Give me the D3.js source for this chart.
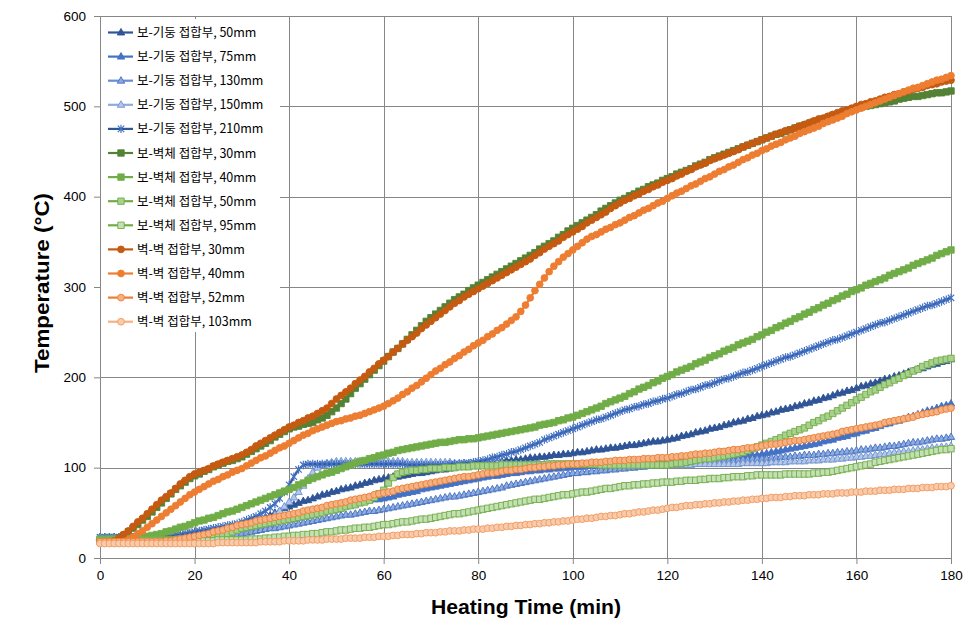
<!DOCTYPE html>
<html><head><meta charset="utf-8">
<script src="https://cdn.jsdelivr.net/npm/d3@7/dist/d3.min.js"></script>
<style>body{margin:0;background:#fff}svg{display:block}</style>
</head><body>
<svg id="chart" width="978" height="639"></svg>
<script>
// ---- data (one reading per minute, 0..180 min) ----
const xTickValues = [0,20,40,60,80,100,120,140,160,180];
const yTickValues = [0,100,200,300,400,500,600];
const seriesNames = [
  "보-기둥 접합부, 50mm","보-기둥 접합부, 75mm","보-기둥 접합부, 130mm","보-기둥 접합부, 150mm","보-기둥 접합부, 210mm",
  "보-벽체 접합부, 30mm","보-벽체 접합부, 40mm","보-벽체 접합부, 50mm","보-벽체 접합부, 95mm",
  "벽-벽 접합부, 30mm","벽-벽 접합부, 40mm","벽-벽 접합부, 52mm","벽-벽 접합부, 103mm"];

const bc50 = [23,23,23,23,23,23,23,23,23,23, 23,23,23,23,24,24,24,25,25,26, 27,28,28,29,30,31,32,33,34,35,
 36,38,39,41,43,45,47,50,52,55, 57,59,61,63,64,66,68,70,71,73, 74,76,77,78,80,81,83,84,86,87,
 88,89,90,90,91,92,93,94,94,95, 96,97,98,98,99,100,101,102,102,103, 104,105,105,106,106,107,108,108,109,109,
 110,111,111,112,112,113,114,114,115,115, 116,117,117,118,119,120,120,121,122,122, 123,124,125,125,126,127,128,129,129,130,
 131,132,133,135,136,137,139,140,141,143, 144,145,147,148,150,151,152,154,155,157, 158,159,161,162,164,165,166,168,169,171,
 172,174,175,177,178,180,182,183,185,186, 188,190,191,193,194,196,198,199,201,202, 204,206,207,209,210,212,214,215,217,218, 220];
const bc75 = [22,22,22,22,22,22,22,22,22,22, 22,22,22,22,22,22,22,23,23,23, 24,25,25,26,26,27,28,29,29,30,
 31,32,33,34,36,37,38,40,41,43, 44,45,47,48,50,51,52,53,55,56, 57,58,59,60,61,62,63,64,65,65,
 66,67,68,70,71,72,73,74,76,77, 78,79,80,81,82,83,84,85,86,87, 88,89,90,91,91,92,93,94,94,95,
 96,96,97,97,98,98,99,99,100,100, 101,101,101,102,102,102,103,103,103,104, 104,104,104,105,105,105,105,105,106,106,
 106,106,107,107,108,108,108,109,109,110, 110,110,111,111,112,112,113,113,114,114, 115,116,117,118,119,120,121,122,123,124,
 125,126,127,129,130,131,133,134,135,137, 138,140,141,143,144,146,148,149,151,152, 154,156,157,159,161,163,164,166,168,169, 171];
const bc130 = [23,23,23,23,23,23,23,23,23,23, 23,23,23,23,23,23,23,23,23,24, 24,24,24,25,25,25,25,26,26,26,
 27,28,29,30,31,32,33,33,34,35, 36,37,38,39,40,41,42,43,44,45, 46,47,48,48,49,50,51,52,52,53,
 54,55,56,57,58,59,60,61,62,63, 64,65,66,67,68,68,69,70,71,72, 73,74,75,76,77,78,80,81,82,83,
 84,85,86,87,88,89,90,91,92,93, 94,94,95,95,96,96,97,97,98,98, 99,99,100,100,101,101,102,102,103,103,
 104,104,104,105,105,105,106,106,106,107, 107,107,108,108,108,109,109,109,110,110, 110,110,111,111,112,112,112,113,113,114,
 114,114,115,115,116,116,117,117,118,118, 119,120,120,121,122,122,123,124,124,125, 126,127,128,128,129,130,131,132,132,133, 134];
const bc150 = [23,23,23,23,23,23,23,23,23,23, 23,23,23,23,23,23,23,23,24,24, 24,24,24,25,25,26,27,28,29,30,
 31,32,34,36,38,41,44,48,52,57, 62,67,73,80,88,95,100,103,105,106, 107,107,107,107,107,107,107,107,107,107,
 107,107,107,107,107,106,106,106,106,106, 106,106,106,106,106,105,105,105,105,105, 105,105,105,105,105,105,104,104,104,104,
 104,104,104,104,104,104,104,104,104,104, 104,104,104,104,104,103,103,103,103,103, 103,103,103,103,103,103,103,103,103,103,
 103,103,103,103,103,103,104,104,104,104, 104,104,104,104,104,104,105,105,105,105, 105,105,106,106,106,106,107,107,107,107,
 108,108,108,109,109,109,110,110,111,111, 112,112,113,113,114,115,115,116,117,117, 118,118,119,120,120,121,122,122,123,123, 124];
const bc210 = [23,23,23,23,23,23,23,23,23,23, 23,23,24,24,24,25,26,26,27,28, 29,30,31,32,33,34,35,36,37,38,
 40,42,44,46,49,52,56,60,66,73, 81,90,98,103,104,104,104,104,104,104, 104,104,104,104,104,104,104,104,104,104,
 104,104,104,104,104,103,103,103,103,103, 103,103,103,103,104,104,104,105,105,106, 107,108,109,111,112,114,115,117,118,120,
 122,124,126,128,131,133,135,137,139,141, 143,145,147,149,151,153,154,156,158,160, 162,164,165,167,168,170,171,173,174,176,
 177,179,181,182,184,186,187,189,191,192, 194,196,198,199,201,203,205,206,208,210, 212,214,216,218,220,222,223,225,227,229,
 231,233,235,237,239,241,242,244,246,248, 250,252,254,256,258,260,261,263,265,267, 269,271,273,275,277,279,280,282,284,286, 288];
const bw30 = [19,19,19,20,22,25,29,33,37,42, 46,51,56,61,66,71,76,80,84,88, 91,93,96,98,101,103,105,107,108,110,
 112,115,118,121,124,127,130,134,137,140, 143,145,146,148,149,150,153,155,158,162, 166,171,176,182,188,193,198,203,208,213,
 218,223,228,232,237,242,247,252,257,262, 266,270,274,278,282,286,289,292,296,299, 302,305,308,311,314,317,320,323,326,329,
 332,335,338,342,345,348,351,355,358,362, 365,368,371,374,377,380,384,387,390,393, 396,398,401,403,406,408,411,413,415,418,
 420,422,425,427,429,431,434,436,438,441, 443,445,447,449,451,453,455,457,459,461, 463,465,467,469,470,472,474,476,478,479,
 481,483,484,486,488,490,491,493,495,496, 498,499,500,501,502,503,504,505,506,508, 509,510,511,511,512,513,514,515,515,516, 517];
const bw40 = [21,21,21,21,21,21,22,22,23,23, 24,25,26,27,29,30,32,34,35,37, 39,41,42,44,45,47,49,51,52,54,
 56,58,60,62,64,66,68,70,72,74, 76,78,81,83,86,88,90,92,94,95, 97,99,101,103,105,107,108,110,111,113,
 114,116,117,119,120,121,122,123,124,125, 126,127,128,128,129,130,131,131,132,132, 133,134,135,136,137,138,139,140,141,142,
 143,144,145,147,148,149,150,152,153,155, 156,158,160,162,164,166,168,171,173,175, 177,179,182,184,187,189,191,194,196,199,
 201,203,206,208,210,212,215,217,219,222, 224,226,229,231,233,236,238,240,242,245, 247,250,252,255,257,260,262,265,267,270,
 272,275,277,280,282,285,287,290,292,295, 297,299,302,304,306,308,310,313,315,317, 319,321,324,326,328,330,332,335,337,339, 341];
const bw50 = [20,20,20,20,20,20,20,20,20,20, 20,20,20,20,20,20,20,21,21,21, 21,22,22,23,24,25,26,27,29,31,
 33,34,35,36,37,38,39,40,41,42, 43,44,45,46,47,48,49,50,52,53, 54,55,57,58,59,61,62,64,67,71,
 75,83,89,93,95,96,97,97,98,98, 99,99,99,100,100,100,101,101,101,102, 102,102,102,102,102,103,103,103,103,103,
 103,103,103,103,103,104,104,104,104,104, 104,104,104,104,104,104,103,103,103,103, 103,103,103,103,103,103,103,103,103,103,
 103,104,105,105,106,107,108,109,110,110, 111,112,113,114,115,116,117,119,121,123, 125,127,129,131,133,136,138,140,142,144,
 147,150,152,155,157,160,163,166,169,172, 175,178,181,184,186,189,192,194,197,199, 202,204,207,209,212,214,216,218,219,220, 221];
const bw95 = [19,19,19,19,19,19,19,19,19,19, 19,19,19,19,19,19,19,19,19,19, 19,19,19,19,19,20,20,20,20,20,
 20,20,21,21,21,22,22,23,23,24, 24,25,25,26,26,27,27,28,29,29, 30,31,31,32,33,33,34,34,35,36,
 37,37,38,39,40,40,41,42,43,43, 44,45,46,47,48,49,49,50,51,52, 53,54,55,56,57,58,59,60,61,62,
 63,64,65,65,66,67,68,69,70,70, 71,72,73,73,74,75,76,77,77,78, 79,80,80,81,81,82,82,83,83,84,
 84,84,85,85,86,86,86,87,87,88, 88,88,89,89,90,90,90,91,91,92, 92,92,92,92,92,93,93,93,93,93,
 93,94,94,95,95,96,97,98,99,100, 101,102,103,104,106,107,108,109,110,111, 112,113,114,115,116,117,118,119,120,120, 121];
const ww30 = [18,18,18,19,22,26,30,35,40,44, 49,54,59,64,68,72,77,82,86,90, 93,95,97,99,102,104,106,108,110,112,
 114,117,120,124,127,130,133,136,139,142, 145,147,150,152,155,157,160,163,166,171, 176,180,184,188,193,197,201,206,210,215,
 219,223,228,232,237,241,245,249,254,258, 262,266,270,274,278,282,285,289,292,295, 298,301,304,307,310,313,316,319,322,325,
 328,331,335,338,342,345,348,351,355,358, 361,364,367,371,374,377,380,383,387,390, 393,396,398,401,403,406,408,411,413,416,
 418,420,423,425,428,430,433,435,437,440, 442,444,446,448,450,452,455,457,459,461, 463,465,467,469,471,473,474,476,478,480,
 482,484,486,487,489,491,493,495,496,498, 500,502,503,505,506,508,510,511,513,514, 516,517,519,520,521,523,524,525,527,528, 529];
const ww40 = [17,17,17,17,17,18,20,23,27,30, 34,38,42,46,50,54,58,62,66,70, 73,76,79,82,85,87,90,92,95,97,
 99,102,105,108,111,113,116,119,122,124, 127,130,133,136,138,141,143,145,147,149, 151,152,154,155,157,158,160,162,164,166,
 168,171,174,177,181,184,188,191,195,199, 203,207,210,214,217,221,224,228,231,235, 238,241,245,248,252,255,259,263,267,273,
 280,288,296,303,310,317,323,328,333,337, 341,345,349,353,356,358,361,364,366,369, 371,374,377,379,382,385,387,390,393,395,
 398,401,404,406,409,412,414,417,420,422, 425,428,430,433,435,438,441,443,446,448, 451,453,456,458,460,463,465,467,470,472,
 474,476,478,481,483,485,487,489,492,494, 496,498,500,502,504,506,508,510,512,514, 516,518,520,521,523,525,527,529,530,532, 534];
const ww52 = [18,18,18,18,18,18,18,18,18,18, 18,18,18,18,19,19,20,21,22,23, 24,25,26,27,29,30,31,33,34,36,
 37,38,39,41,42,43,44,45,46,47, 48,49,50,52,53,54,55,56,58,59, 60,61,62,64,65,66,67,68,70,71,
 72,73,74,76,77,78,79,80,81,82, 83,84,85,86,87,88,89,90,90,91, 92,93,94,94,95,96,97,97,98,98,
 99,100,100,101,101,102,102,103,103,104, 104,104,105,105,106,106,106,107,107,108, 108,108,109,109,109,110,110,110,111,111,
 111,112,112,113,113,114,115,115,116,116, 117,118,118,119,120,120,121,122,122,123, 124,125,126,126,127,128,129,130,130,131,
 132,133,134,135,136,137,138,140,141,142, 143,144,145,146,147,148,150,151,152,153, 154,155,156,158,159,160,161,162,164,165, 166];
const ww103 = [16,16,16,16,16,16,16,16,16,16, 16,16,16,16,16,16,16,16,16,16, 16,16,16,16,16,17,17,17,17,17,
 17,17,17,17,18,18,18,18,18,19, 19,19,19,19,20,20,20,20,21,21, 21,21,22,22,22,22,23,23,23,24,
 24,24,25,25,26,26,26,27,27,28, 28,28,29,29,30,30,30,31,31,32, 32,32,33,33,34,34,35,35,36,36,
 37,37,38,38,39,39,40,40,41,41, 42,43,43,44,44,45,46,46,47,47, 48,49,49,50,51,51,52,53,53,54,
 55,56,56,57,58,58,59,59,60,60, 61,61,62,62,63,63,64,64,65,65, 66,66,67,67,67,68,68,69,69,69,
 70,70,70,71,71,71,72,72,72,73, 73,73,74,74,74,75,75,75,76,76, 76,77,77,77,78,78,78,79,79,79, 80];

const seriesValues = [bc50,bc75,bc130,bc150,bc210,bw30,bw40,bw50,bw95,ww30,ww40,ww52,ww103];

// ---- styles ----
const TRI = "M0,-4L3.7,2.5L-3.7,2.5Z";
const SQR = "M-3.2,-3.2h6.4v6.4h-6.4Z";
const CIR = "M3.4,0A3.4,3.4 0 1,1 -3.4,0A3.4,3.4 0 1,1 3.4,0Z";
const STAR = "M-3.2,-3.2L3.2,3.2M-3.2,3.2L3.2,-3.2M0,-4.2V4.2";
const styles = [
  {line:"#2F5597", m:TRI, fill:"#2F5597", stroke:"#2F5597"},
  {line:"#4472C4", m:TRI, fill:"#4472C4", stroke:"#4472C4"},
  {line:"#698ED0", m:TRI, fill:"#8FAADC", stroke:"#4472C4"},
  {line:"#8FAADC", m:TRI, fill:"#B4C7E7", stroke:"#6F93D3"},
  {line:"#2F5597", m:STAR, fill:"none", stroke:"#4472C4"},
  {line:"#548235", m:SQR, fill:"#548235", stroke:"#548235"},
  {line:"#70AD47", m:SQR, fill:"#70AD47", stroke:"#70AD47"},
  {line:"#70AD47", m:SQR, fill:"#A9D18E", stroke:"#70AD47"},
  {line:"#70AD47", m:SQR, fill:"#C5E0B4", stroke:"#70AD47"},
  {line:"#C55A11", m:CIR, fill:"#C55A11", stroke:"#C55A11"},
  {line:"#ED7D31", m:CIR, fill:"#ED7D31", stroke:"#ED7D31"},
  {line:"#ED7D31", m:CIR, fill:"#F4B183", stroke:"#ED7D31"},
  {line:"#F4B183", m:CIR, fill:"#F8CBAD", stroke:"#F19A5E"}
];

const svg = d3.select("#chart");
const x = d3.scaleLinear().domain([0,180]).range([100,951]);
const y = d3.scaleLinear().domain([0,600]).range([558,16]);
const GRID = "#878787";

// gridlines
const g = svg.append("g");
g.selectAll(".hg").data(yTickValues.filter(v=>v>0)).join("line")
  .attr("x1",100).attr("x2",951).attr("y1",d=>Math.round(y(d))+0.5).attr("y2",d=>Math.round(y(d))+0.5)
  .attr("stroke",GRID).attr("stroke-width",1);
g.selectAll(".vg").data(xTickValues.filter(v=>v>0)).join("line")
  .attr("y1",16).attr("y2",558).attr("x1",d=>Math.round(x(d))+0.5).attr("x2",d=>Math.round(x(d))+0.5)
  .attr("stroke",GRID).attr("stroke-width",1);

// axes
const ax = svg.append("g").attr("transform","translate(0,558)")
  .call(d3.axisBottom(x).tickValues(xTickValues).tickSizeInner(6).tickSizeOuter(0).tickPadding(6));
const ay = svg.append("g").attr("transform","translate(100,0)")
  .call(d3.axisLeft(y).tickValues(yTickValues).tickSizeInner(6).tickSizeOuter(0).tickPadding(8));
[ax,ay].forEach(a=>{
  a.select(".domain").attr("stroke",GRID);
  a.selectAll(".tick line").attr("stroke",GRID);
  a.selectAll(".tick text").attr("fill","#000").style("font-family","'Liberation Sans', Arial, sans-serif").style("font-size","13.5px");
});

// series
const lineGen = d3.line().x((d,i)=>x(i)).y(d=>y(d));
seriesValues.forEach((vals,si)=>{
  const st = styles[si];
  const sg = svg.append("g");
  sg.append("path").attr("d",lineGen(vals)).attr("fill","none")
    .attr("stroke",st.line).attr("stroke-width",2.2).attr("stroke-linejoin","round");
  sg.selectAll("path.mk").data(vals).join("path").attr("class","mk")
    .attr("transform",(d,i)=>`translate(${x(i)},${y(d)})`)
    .attr("d",st.m).attr("fill",st.fill).attr("stroke",st.stroke).attr("stroke-width",st.m===STAR?1.2:0.9);
});

// axis titles
svg.append("text").attr("x",526).attr("y",614).attr("text-anchor","middle")
  .attr("textLength",190).attr("lengthAdjust","spacingAndGlyphs")
  .style("font-family","'Liberation Sans', Arial, sans-serif").style("font-weight","bold").style("font-size","21px")
  .text("Heating Time (min)");
svg.append("text").attr("transform","translate(49,283) rotate(-90)").attr("text-anchor","middle")
  .attr("textLength",180).attr("lengthAdjust","spacingAndGlyphs")
  .style("font-family","'Liberation Sans', Arial, sans-serif").style("font-weight","bold").style("font-size","21px")
  .text("Temperature (°C)");

// legend
const lg = svg.append("g");
lg.append("rect").attr("x",101).attr("y",19).attr("width",179).attr("height",313).attr("fill","#fff");
seriesNames.forEach((name,i)=>{
  const st = styles[i];
  const ly = 32.5 + i*24.1;
  lg.append("line").attr("x1",108).attr("x2",133).attr("y1",ly).attr("y2",ly)
    .attr("stroke",st.line).attr("stroke-width",2.2);
  lg.append("path").attr("transform",`translate(121,${ly})`).attr("d",st.m)
    .attr("fill",st.fill).attr("stroke",st.stroke).attr("stroke-width",st.m===STAR?1.2:0.9);
  lg.append("text").attr("x",137).attr("y",ly+4.5)
    .style("font-family","'Noto Sans CJK KR', sans-serif").style("font-size","12.5px").attr("fill","#000")
    .text(name);
});
</script>
</body></html>
